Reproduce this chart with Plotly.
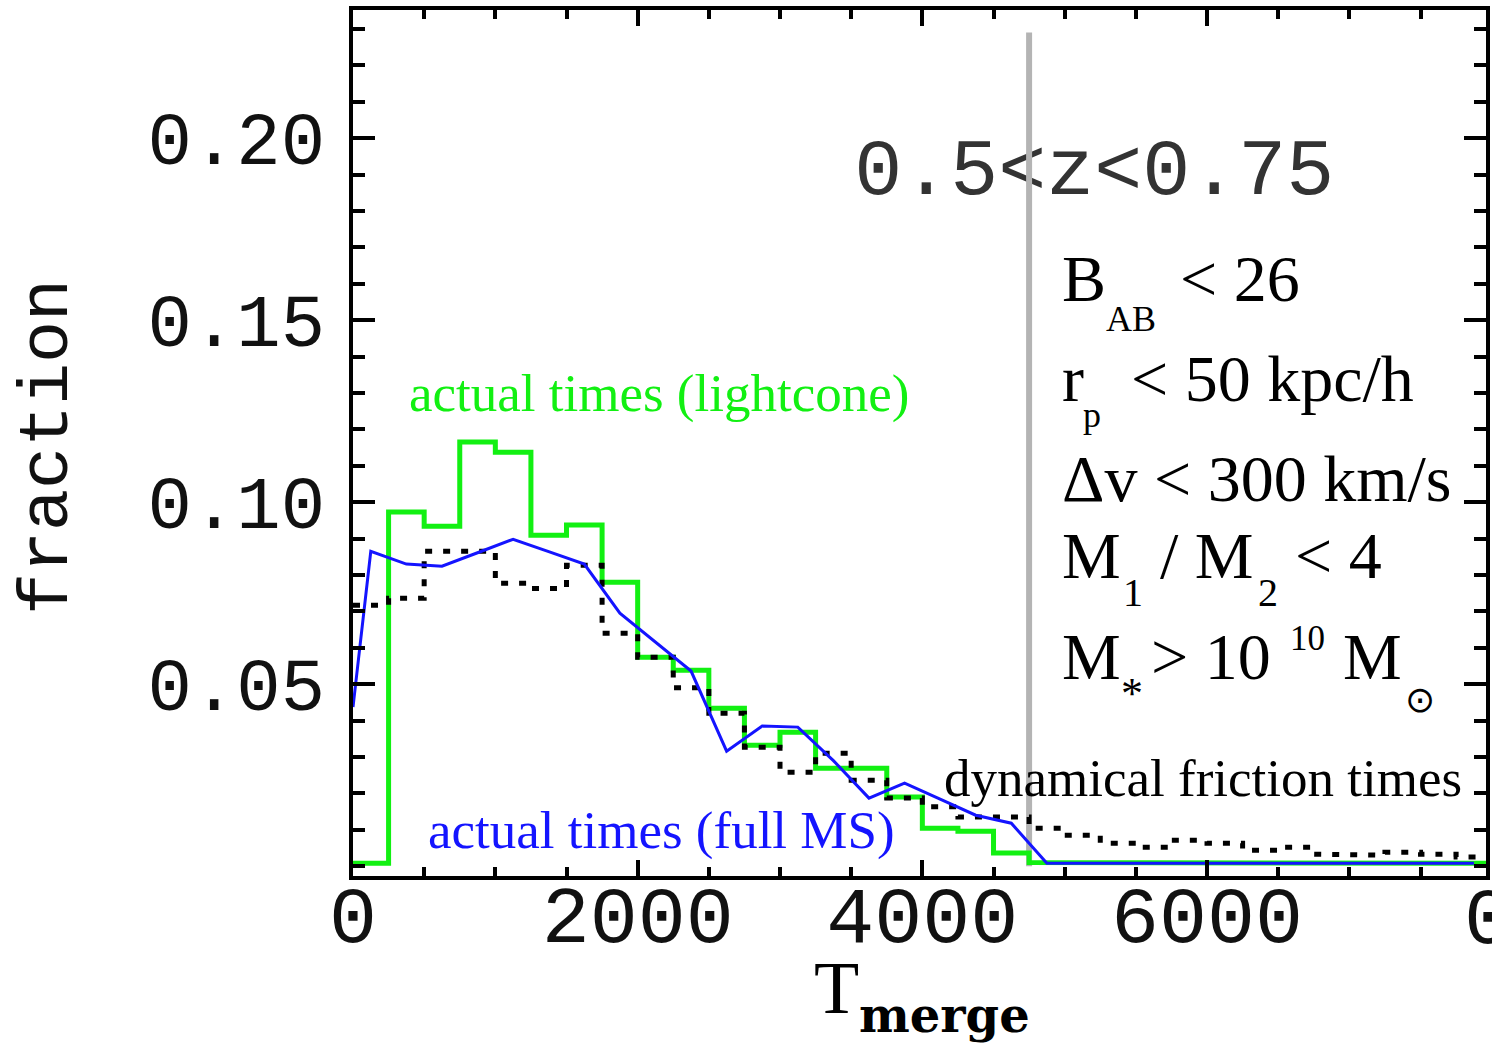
import plotly.graph_objects as go

# ---------------- data ----------------
bin_edges = [250 * i for i in range(33)]  # 0 .. 8000

green_lightcone = [0.0008, 0.0973, 0.0934, 0.1165, 0.1137, 0.0909, 0.0937, 0.0780,
                   0.0574, 0.0538, 0.0434, 0.0332, 0.0368, 0.0269, 0.0269, 0.0190,
                   0.0104, 0.0096, 0.0036, 0.0010, 0.0008, 0.0008, 0.0008, 0.0008,
                   0.0008, 0.0008, 0.0008, 0.0008, 0.0008, 0.0008, 0.0008, 0.0008]

dyn_friction = [0.0717, 0.0736, 0.0865, 0.0865, 0.0777, 0.0763, 0.0827, 0.0640,
                0.0574, 0.0490, 0.0420, 0.0327, 0.0258, 0.0310, 0.0236, 0.0187,
                0.0163, 0.0135, 0.0135, 0.0104, 0.0085, 0.0063, 0.0052, 0.0071,
                0.0063, 0.0044, 0.0052, 0.0033, 0.0030, 0.0038, 0.0033, 0.0025]

blue_x = [0, 125, 375, 625, 875, 1125, 1375, 1625, 1875, 2125, 2375, 2625, 2875,
          3125, 3375, 3625, 3875, 4125, 4375, 4625, 4875, 5125, 5375, 5625, 5875,
          6125, 6375, 6625, 6875, 7125, 7375, 7625, 7875]
blue_fullms = [0.0437, 0.0865, 0.0830, 0.0824, 0.0861, 0.0898, 0.0864, 0.0830, 0.0695,
               0.0615, 0.0536, 0.0316, 0.0385, 0.0382, 0.0290, 0.0187, 0.0228, 0.0184,
               0.0140, 0.0118, 0.0008, 0.0008, 0.0008, 0.0008, 0.0008, 0.0008, 0.0008,
               0.0008, 0.0008, 0.0008, 0.0008, 0.0008, 0.0008]

df_line_x = 4750
df_line_top = 0.229

x_tickvals = [0, 2000, 4000, 6000]
x_ticktext = ["0", "2000", "4000", "6000"]
y_tickvals = [0.05, 0.10, 0.15, 0.20]
y_ticktext = ["0.05", "0.10", "0.15", "0.20"]

X_RANGE = [0, 7960]
Y_RANGE = [-0.0027, 0.2352]

GREEN = "#12f012"
BLUE = "#1414ff"


def step_xy(edges, vals):
    xs, ys = [], []
    for i, v in enumerate(vals):
        xs += [edges[i], edges[i + 1]]
        ys += [v, v]
    return xs, ys


# ---------------- layout helpers (pixel -> paper) ----------------
L, R, T, B = 353, 1490, 10, 876
W, H = 1492, 1044


def pxp(x):
    return (x - L) / (R - L)


def pyp(y):
    return (B - y) / (B - T)


def pxd(x):
    return X_RANGE[0] + (x - L) / (R - L) * (X_RANGE[1] - X_RANGE[0])


def pyd(y):
    return Y_RANGE[1] - (y - T) / (B - T) * (Y_RANGE[1] - Y_RANGE[0])


fig = go.Figure()

# label under the grey line
fig.add_trace(go.Scatter(
    x=[pxd(856)], y=[pyd(174)], mode="text", text=["0.5<z<0.75"],
    textposition="middle right",
    textfont=dict(family="Liberation Mono", size=80, color="#333333"),
    hoverinfo="skip", showlegend=False))

# grey vertical line
fig.add_trace(go.Scatter(
    x=[df_line_x, df_line_x], y=[0, df_line_top], mode="lines",
    line=dict(color="#b4b4b4", width=6), hoverinfo="skip", showlegend=False))

gx, gy = step_xy(bin_edges, green_lightcone)
fig.add_trace(go.Scatter(x=gx, y=gy, mode="lines",
                         line=dict(color=GREEN, width=5), showlegend=False))

dx, dy = step_xy(bin_edges, dyn_friction)
fig.add_trace(go.Scatter(x=dx, y=dy, mode="lines",
                         line=dict(color="black", width=5, dash="7px,11px"),
                         showlegend=False))

fig.add_trace(go.Scatter(x=blue_x, y=blue_fullms, mode="lines",
                         line=dict(color=BLUE, width=3), showlegend=False))

ax_common = dict(showline=True, linewidth=4, linecolor="black", mirror="ticks",
                 ticks="inside", tickwidth=4, tickcolor="black",
                 showgrid=False, zeroline=False, tickmode="array")

fig.update_xaxes(range=X_RANGE, tickvals=x_tickvals, ticktext=x_ticktext,
                 ticklen=16,
                 minor=dict(ticks="inside", ticklen=9, tickwidth=4, tickcolor="black",
                            tick0=0, dtick=500),
                 tickfont=dict(family="Liberation Mono", size=80, color="#111111"),
                 ticklabelstandoff=-34,
                 **ax_common)
fig.update_yaxes(range=Y_RANGE, tickvals=y_tickvals, ticktext=y_ticktext,
                 ticklen=22,
                 minor=dict(ticks="inside", ticklen=12, tickwidth=4, tickcolor="black",
                            tick0=0, dtick=0.01),
                 tickfont=dict(family="Liberation Mono", size=74, color="#111111"),
                 ticklabelstandoff=9,
                 **ax_common)

annots = []


def ann(text, x, ybase, size, family="Liberation Serif", color="black",
        xanchor="left", dy=0.32):
    annots.append(dict(text=text, x=pxp(x), y=pyp(ybase - dy * size),
                       xref="paper", yref="paper", xanchor=xanchor, yanchor="middle",
                       showarrow=False, borderpad=0,
                       font=dict(family=family, size=size, color=color)))


# right block
ann("B", 1063, 300, 66)
ann("AB", 1108, 331, 36)
ann("&lt; 26", 1182, 300, 66)
ann("r", 1063, 400, 66)
ann("p", 1085, 427, 36)
ann("&lt; 50 kpc/h", 1133, 400, 66)
ann("Δv &lt; 300 km/s", 1063, 500, 66)
ann("M", 1063, 577, 66)
ann("1", 1125, 605, 40)
ann("/ M", 1162, 577, 66)
ann("2", 1260, 605, 40)
ann("&lt; 4", 1297, 577, 66)
ann("M", 1063, 678, 66)
ann("*", 1123, 708, 44)
ann("&gt; 10", 1153, 678, 66)
ann("10", 1292, 650, 35)
ann("M", 1345, 678, 66)
ann("⊙", 1424, 699 + 0.32 * 36, 36, family="DejaVu Sans", xanchor="center")

ann("dynamical friction times", 945, 795, 53)
ann("actual times (lightcone)", 408, 410, 53, color=GREEN)
ann("actual times (full MS)", 427, 847, 53, color=BLUE)

# axis titles
annots.append(dict(text="fraction", x=pxp(48), y=pyp(447), xref="paper", yref="paper",
                   xanchor="center", yanchor="middle", textangle=-90, showarrow=False,
                   font=dict(family="Liberation Mono", size=70, color="#111111")))
ann("T", 838, 1012, 74, xanchor="center")
ann("<b>merge</b>", 860, 1030, 48, family="DejaVu Serif")

# next-panel tick label cut at the right edge
annots.append(dict(text="0", x=pxp(1492), y=pyp(921), xref="paper", yref="paper",
                   xanchor="center", yanchor="middle", showarrow=False, borderpad=0,
                   font=dict(family="Liberation Mono", size=80, color="#111111")))

fig.update_layout(width=W, height=H,
                  margin=dict(l=L, r=W - R, t=T, b=H - B),
                  plot_bgcolor="white", paper_bgcolor="white",
                  showlegend=False, annotations=annots)

fig.write_html("out.html")
